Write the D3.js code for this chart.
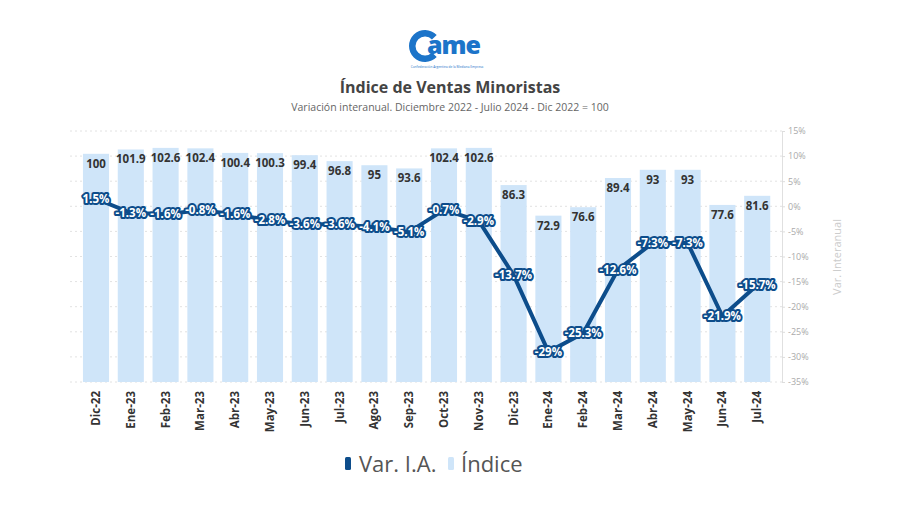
<!DOCTYPE html>
<html><head><meta charset="utf-8">
<script src="https://cdn.jsdelivr.net/npm/d3@7"></script>
<style>
body{margin:0;background:#fff;}
svg{font-family:"Open Sans",sans-serif;}
</style></head>
<body><svg id="c" width="900" height="505"></svg>
<script>
const categories = ["Dic-22","Ene-23","Feb-23","Mar-23","Abr-23","May-23","Jun-23","Jul-23","Ago-23","Sep-23","Oct-23","Nov-23","Dic-23","Ene-24","Feb-24","Mar-24","Abr-24","May-24","Jun-24","Jul-24"];
const indice = [100,101.9,102.6,102.4,100.4,100.3,99.4,96.8,95,93.6,102.4,102.6,86.3,72.9,76.6,89.4,93,93,77.6,81.6];
const varIA = [1.5,-1.3,-1.6,-0.8,-1.6,-2.8,-3.6,-3.6,-4.1,-5.1,-0.7,-2.9,-13.7,-29,-25.3,-12.6,-7.3,-7.3,-21.9,-15.7];
const rightTicks = [15,10,5,0,-5,-10,-15,-20,-25,-30,-35];

(function(){
const svg = d3.select("#c");
const plotTop = 131, plotBottom = 382;
const x = d3.scaleBand().domain(categories).range([78.6, 774.6]).paddingInner(0.25).paddingOuter(0.125);
const yBar = d3.scaleLinear().domain([0,110]).range([plotBottom, plotTop]);
const yR = d3.scaleLinear().domain([-35,15]).range([plotBottom, plotTop]);
const darkBlue = "#0d4d8b", lightBlue = "#cfe5f9";

// logo
const logo = svg.append("g").attr("transform","translate(447,46)");
logo.append("path").attr("d", d3.arc()({innerRadius:9.5,outerRadius:16,startAngle:Math.PI/2+0.75,endAngle:Math.PI/2+2*Math.PI-0.75}))
  .attr("transform","translate(-22,0)").attr("fill","#1c74c9");
logo.append("text").attr("x",-20).attr("y",8).attr("font-size",25).attr("font-weight",800)
  .attr("fill","#1c74c9").attr("letter-spacing",-1).text("ame");
logo.append("text").attr("x",0).attr("y",22).attr("text-anchor","middle").attr("font-size",3.2)
  .attr("fill","#1c74c9").text("Confederación Argentina de la Mediana Empresa");

svg.append("text").attr("x",450).attr("y",93).attr("text-anchor","middle").attr("font-size",16)
  .attr("font-weight",700).attr("fill","#444").text("Índice de Ventas Minoristas");
svg.append("text").attr("x",450).attr("y",111).attr("text-anchor","middle").attr("font-size",10.5)
  .attr("fill","#666").text("Variación interanual. Diciembre 2022 - Julio 2024 - Dic 2022 = 100");

// gridlines
svg.append("g").selectAll("line").data(rightTicks).join("line")
  .attr("x1",70).attr("x2",782).attr("y1",d=>yR(d)).attr("y2",d=>yR(d))
  .attr("stroke","#e2e2e2").attr("stroke-dasharray","2,3");

// bars
svg.append("g").selectAll("rect").data(indice).join("rect")
  .attr("x",(d,i)=>x(categories[i])).attr("width",x.bandwidth())
  .attr("y",d=>yBar(d)).attr("height",d=>plotBottom-yBar(d)).attr("fill",lightBlue);

svg.append("g").selectAll("text").data(indice).join("text")
  .attr("x",(d,i)=>x(categories[i])+x.bandwidth()/2).attr("y",d=>yBar(d)+14)
  .attr("text-anchor","middle").attr("font-size",11.5).attr("font-weight",700).attr("fill","#333")
  .text(d=>d);

// right axis
const ax = svg.append("g").attr("transform","translate(782,0)")
  .call(d3.axisRight(yR).tickValues(rightTicks).tickSize(3).tickFormat(d=>d+"%"));
ax.select(".domain").attr("stroke","#e0e0e0");
ax.selectAll(".tick line").attr("stroke","#ddd");
ax.selectAll(".tick text").attr("fill","#aaa").attr("font-size",9).attr("font-family","Open Sans").attr("x",6);
svg.append("text").attr("transform","translate(841,257) rotate(-90)").attr("text-anchor","middle")
  .attr("font-size",11).attr("fill","#ccc").text("Var. Interanual");

// x labels
svg.append("g").selectAll("text").data(categories).join("text")
  .attr("transform",d=>`translate(${x(d)+x.bandwidth()/2+4},391) rotate(-90)`)
  .attr("text-anchor","end").attr("font-size",11.5).attr("font-weight",700).attr("fill","#333")
  .text(d=>d);

// line
const line = d3.line().x((d,i)=>x(categories[i])+x.bandwidth()/2).y(d=>yR(d));
svg.append("path").datum(varIA).attr("d",line).attr("fill","none").attr("stroke",darkBlue)
  .attr("stroke-width",4).attr("stroke-linejoin","round");

svg.append("g").selectAll("text").data(varIA).join("text")
  .attr("x",(d,i)=>x(categories[i])+x.bandwidth()/2).attr("y",d=>yR(d)+4)
  .attr("text-anchor","middle").attr("font-size",11.5).attr("font-weight",700)
  .attr("fill","#fff").attr("stroke",darkBlue).attr("stroke-width",4).attr("paint-order","stroke")
  .attr("stroke-linejoin","round").text(d=>d+"%");

// legend
const lg = svg.append("g");
lg.append("rect").attr("x",345).attr("y",457).attr("width",6).attr("height",13).attr("rx",1.5).attr("fill",darkBlue);
lg.append("text").attr("x",359).attr("y",472).attr("font-size",22).attr("fill","#555").text("Var. I.A.");
lg.append("rect").attr("x",448).attr("y",457).attr("width",6).attr("height",13).attr("rx",1.5).attr("fill",lightBlue);
lg.append("text").attr("x",461).attr("y",472).attr("font-size",22).attr("fill","#555").text("Índice");
})();
</script></body></html>
